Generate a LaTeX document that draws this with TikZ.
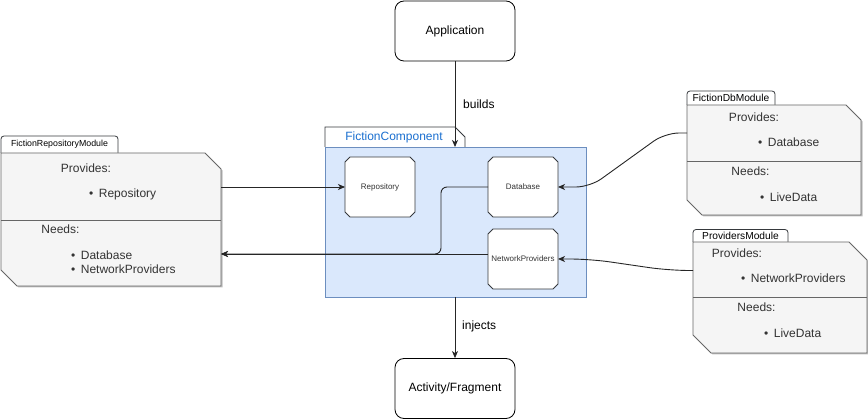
\documentclass[tikz,border=0pt]{standalone}
\usepackage{fontspec}
\setmainfont{Liberation Sans}
\usetikzlibrary{arrows.meta,calc,shadows}
\definecolor{modfill}{HTML}{F5F5F5}
\definecolor{modline}{HTML}{666666}
\definecolor{compfill}{HTML}{DAE8FC}
\definecolor{compline}{HTML}{6C8EBF}
\definecolor{boxline}{HTML}{36393D}
\definecolor{fcblue}{HTML}{1A6FD0}
\definecolor{txt}{HTML}{333333}
\newcommand\chamfoutline[3]{%
  \path[#3] (#1.north west) -- ([xshift=-#2pt]#1.north east) -- ([yshift=-#2pt]#1.north east)
    -- (#1.south east) -- ([xshift=#2pt]#1.south west) -- ([yshift=#2pt]#1.south west) -- cycle;}
\newcommand\octoutline[2]{%
  \path[#2] ([xshift=5pt]#1.north west) -- ([xshift=-5pt]#1.north east) -- ([yshift=-5pt]#1.north east)
    -- ([yshift=5pt]#1.south east) -- ([xshift=-5pt]#1.south east) -- ([xshift=5pt]#1.south west)
    -- ([yshift=5pt]#1.south west) -- ([yshift=-5pt]#1.north west) -- cycle;}
\newcommand\tabpath[2]{%
  \path[#2] (#1.south west) -- (#1.north west) -- (#1.north east) -- (#1.south east);}
\newcommand\bul{•\hspace{5.5pt}}
\tikzset{
  fs/.style={font=\fontsize{#1}{#1}\selectfont},
  rbox/.style={draw=black, fill=white, rounded corners=9pt, minimum width=120pt,
    minimum height=60pt, line width=0.8pt, inner sep=0pt, fs=12},
  frame/.style={inner sep=0pt, outer sep=0pt, anchor=north west},
  tabframe/.style={inner sep=0pt, outer sep=0pt, anchor=south west},
  ibox/.style={inner sep=0pt, outer sep=0pt, minimum width=70pt, minimum height=60pt},
  ishape/.style={draw=boxline, fill=white, line width=0.8pt},
  modshape/.style={draw=modline, fill=modfill, line width=0.8pt,
    drop shadow={shadow xshift=1.5pt, shadow yshift=-1.5pt, opacity=0.25, fill=black}},
  tabshape/.style={draw=boxline, fill=white, line width=0.8pt, rounded corners=3pt},
  divider/.style={draw=modline, line width=0.8pt},
  mtext/.style={text=txt, fs=12, inner sep=0pt},
  itext/.style={text=txt, fs=8, inner sep=0pt},
  lbl/.style={text=black, fs=12, inner sep=0pt, anchor=west},
  conn/.style={draw=black!85, line width=0.9pt, -{Stealth[length=7pt,width=6pt,inset=2pt]}},
}
\begin{document}
\begin{tikzpicture}[x=1pt,y=-1pt]
\useasboundingbox (0,0) rectangle (868,419);

% top / bottom boxes
\node[rbox] (app) at (455,31) {Application};
\node[rbox] (act) at (455,388.5) {Activity/Fragment};

% component
\node[frame, draw=compline, fill=compfill, line width=0.8pt, minimum width=261pt, minimum height=150pt] (comp) at (325,147) {};
\node[tabframe, minimum width=140pt, minimum height=20pt] (fctab) at (325,147) {};
\path[draw=boxline, fill=white, line width=0.8pt] (fctab.south west) -- (fctab.north west)
  -- ([xshift=-10pt]fctab.north east) -- ([yshift=-10pt]fctab.north east) -- (fctab.south east);
\node[text=fcblue, fs=12, inner sep=0pt] (fclabel) at (394,137.5) {FictionComponent};

\node[ibox] (repo) at (380,187) {};
\node[ibox] (db) at (523,187) {};
\node[ibox] (np) at (523,259) {};
\octoutline{repo}{ishape}
\octoutline{db}{ishape}
\octoutline{np}{ishape}
\node[itext] (repolabel) at (repo) {Repository};
\node[itext] (dblabel) at (db) {Database};
\node[itext] (nplabel) at (np) {NetworkProviders};

% FictionRepositoryModule
\node[frame, minimum width=220pt, minimum height=133pt] (frm) at (1,153) {};
\node[tabframe, minimum width=117pt, minimum height=17pt] (frmtab) at (1,153) {};
\tabpath{frmtab}{tabshape}
\node[text=black, fs=8.8, inner sep=0pt] (frmtablabel) at (frmtab) {FictionRepositoryModule};
\chamfoutline{frm}{16}{modshape}
\draw[divider] (1,220) -- (221,220);
\node[mtext] (frmprov) at (86,168.5) {Provides:};
\node[mtext, anchor=west] (frmprov1) at (89,194) {\bul Repository};
\node[mtext] (frmneed) at (60.5,229) {Needs:};
\node[mtext, anchor=west] (frmneed1) at (71,255) {\bul Database};
\node[mtext, anchor=west] (frmneed2) at (71,269.5) {\bul NetworkProviders};

% FictionDbModule
\node[frame, minimum width=174pt, minimum height=110pt] (fdm) at (687,105) {};
\node[tabframe, minimum width=88pt, minimum height=14pt] (fdmtab) at (687,105) {};
\tabpath{fdmtab}{tabshape}
\node[text=black, fs=10.2, inner sep=0pt] (fdmtablabel) at (fdmtab) {FictionDbModule};
\chamfoutline{fdm}{15}{modshape}
\draw[divider] (687,161) -- (861,161);
\node[mtext] (fdmprov) at (754,117) {Provides:};
\node[mtext, anchor=west] (fdmprov1) at (758,142) {\bul Database};
\node[mtext] (fdmneed) at (750.5,171.5) {Needs:};
\node[mtext, anchor=west] (fdmneed1) at (760,197) {\bul LiveData};

% ProvidersModule
\node[frame, minimum width=174pt, minimum height=111pt] (pm) at (693,242) {};
\node[tabframe, minimum width=95pt, minimum height=12.5pt] (pmtab) at (693,242) {};
\tabpath{pmtab}{tabshape}
\node[text=black, fs=10.2, inner sep=0pt] (pmtablabel) at (pmtab) {ProvidersModule};
\chamfoutline{pm}{18}{modshape}
\draw[divider] (693,297) -- (867,297);
\node[mtext] (pmprov) at (737,253) {Provides:};
\node[mtext, anchor=west] (pmprov1) at (741,278) {\bul NetworkProviders};
\node[mtext] (pmneed) at (756.5,307.5) {Needs:};
\node[mtext, anchor=west] (pmneed1) at (764,333) {\bul LiveData};

% connectors
\draw[conn] (app.south) -- (app.south |- comp.north);
\node[lbl] (buildslbl) at (463,104) {builds};
\draw[conn] (act.north |- comp.south) -- (act.north);
\node[lbl] (injectslbl) at (462,326.5) {injects};

\draw[conn] (frm.east |- repo.west) -- (repo.west);
\coordinate (npout) at ([yshift=5pt]np.west);
\draw[conn, rounded corners=6pt] (db.west) -- ++(-47,0) |- (npout -| frm.east);
\draw[conn] (npout) -- (npout -| frm.east);

\coordinate (fdmout) at ([yshift=27pt]fdm.west);
\draw[conn, rounded corners=14pt] (fdmout) -- ++(-22,0) -- ($(db.east)+(32,0)$) -- (db.east);
\coordinate (pmout) at ([yshift=27pt]pm.west);
\draw[conn, rounded corners=20pt] (pmout) -- ++(-24,0) -- ($(np.east)+(32,0)$) -- (np.east);
\end{tikzpicture}
\end{document}
